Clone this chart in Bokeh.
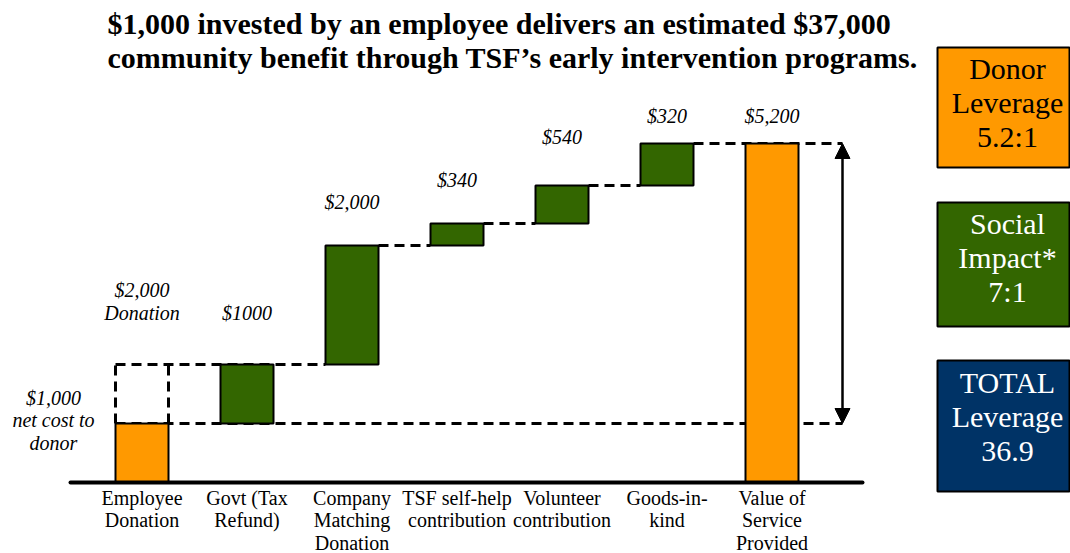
from bokeh.plotting import figure
from bokeh.models import Range1d, Arrow, NormalHead
from bokeh.core.properties import value
from bokeh.embed import file_html
from bokeh.resources import INLINE

# ---- data ----
categories = ["Employee\nDonation", "Govt (Tax\nRefund)", "Company\nMatching\nDonation",
              "TSF self-help\ncontribution", "Volunteer\ncontribution", "Goods-in-\nkind",
              "Value of\nService\nProvided"]
steps = [905, 905, 1826, 337, 583, 644]      # visual step heights of the waterfall
total = 5200                                   # final bar
value_labels = ["$2,000\nDonation", "$1000", "$2,000", "$340", "$540", "$320", "$5,200"]
net_cost_label = "$1,000\nnet cost to\ndonor"
title_text = ("$1,000 invested by an employee delivers an estimated $37,000\n"
              "community benefit through TSF\u2019s early intervention programs.")
box_texts = ["Donor\nLeverage\n5.2:1", "Social\nImpact*\n7:1", "TOTAL\nLeverage\n36.9"]

ORANGE = "#FF9900"
GREEN = "#336600"
NAVY = "#003366"
SERIF = "Liberation Serif"

W, H = 1070, 553
X0, DX, BASE = 141.5, 105.0, 482.0
S = total / 339.0


def X(px):
    return (px - X0) / DX


def Y(py):
    return (BASE - py) * S


p = figure(width=W, height=H, output_backend="svg", toolbar_location=None,
           x_range=Range1d(X(0), X(W)), y_range=Range1d(Y(H), Y(0)),
           x_axis_type=None, y_axis_type=None, min_border=0,
           outline_line_color=None, background_fill_color="white",
           border_fill_color="white")
p.grid.visible = False

# cumulative tops / bottoms
tops, bottoms = [], []
acc = 0
for s in steps:
    bottoms.append(acc)
    acc += s
    tops.append(acc)
bottoms.append(0)
tops.append(total)
n = len(categories)
idx = list(range(n))
hw = 26.5 / DX
colors = [ORANGE] + [GREEN] * (n - 2) + [ORANGE]
arrow_x = (n - 1) + 70.5 / DX

# ---- dashed guide lines ----
dash = dict(line_color="black", line_width=3, line_dash="10 6")
x0s, y0s, x1s, y1s = [], [], [], []
x0s.append(0 - hw); y0s.append(tops[0]); x1s.append(arrow_x); y1s.append(tops[0])
x0s.append(0 - hw); y0s.append(tops[1]); x1s.append(2 - hw); y1s.append(tops[1])
for xv in (0 - hw, 0 + hw):
    x0s.append(xv); y0s.append(tops[0]); x1s.append(xv); y1s.append(tops[1])
for i in range(2, n - 1):
    x0s.append(i + hw); y0s.append(tops[i])
    x1s.append(arrow_x if i == n - 2 else i + 1 - hw); y1s.append(tops[i])
p.segment(x0=x0s, y0=y0s, x1=x1s, y1=y1s, **dash)

# ---- bars ----
p.quad(left=[i - hw for i in idx], right=[i + hw for i in idx],
       bottom=bottoms, top=tops, fill_color=colors, line_color="black", line_width=2)

# ---- arrow ----
p.add_layout(Arrow(start=NormalHead(size=15, fill_color="black", line_color="black"),
                   end=NormalHead(size=15, fill_color="black", line_color="black"),
                   x_start=arrow_x, y_start=tops[0], x_end=arrow_x, y_end=total,
                   line_color="black", line_width=2.5))

# ---- baseline ----
p.segment(x0=[X(70)], y0=[0], x1=[X(862)], y1=[0], line_color="black",
          line_width=4, line_cap="round")

# ---- category labels ----
p.text(x=idx, y=[Y(486)] * n, text=categories, text_align="center", text_baseline="top",
       text_font=value(SERIF), text_font_size="20px", text_line_height=1.035,
       text_color="black")

# ---- value labels ----
label_gap_px = [63, 52, 43, 43, 48, 28, 28]
label_ref = [tops[1]] + tops[1:]
p.text(x=idx, y=[label_ref[i] + label_gap_px[i] * S for i in idx], text=value_labels,
       text_align="center", text_baseline="middle", text_font=value(SERIF),
       text_font_size="20px", text_font_style="italic", text_line_height=1.035,
       text_color="black")
p.text(x=[X(53)], y=[tops[0] + 3 * S], text=[net_cost_label], text_align="center",
       text_baseline="middle", text_font=value(SERIF), text_font_size="20px",
       text_font_style="italic", text_line_height=1.035, text_color="black")

# ---- title ----
p.text(x=[X(107)], y=[Y(40)], text=[title_text], text_align="left", text_baseline="middle",
       text_font=value(SERIF), text_font_size="30px", text_font_style="bold",
       text_line_height=1.06, text_color="black")

# ---- right-hand boxes ----
box_top = [47, 202, 360]
box_bot = [167, 326, 491]
box_fill = [ORANGE, GREEN, NAVY]
box_txt_color = ["black", "white", "white"]
p.quad(left=[X(937)] * 3, right=[X(1069)] * 3, top=[Y(t) for t in box_top],
       bottom=[Y(b) for b in box_bot], fill_color=box_fill, line_color="black", line_width=2)
p.text(x=[X(1007)] * 3, y=[Y(102), Y(257), Y(416)], text=box_texts, text_align="center",
       text_baseline="middle", text_font=value(SERIF), text_font_size="30px",
       text_line_height=1.03, text_color=box_txt_color)

open("out.html", "w").write(file_html(p, INLINE))
